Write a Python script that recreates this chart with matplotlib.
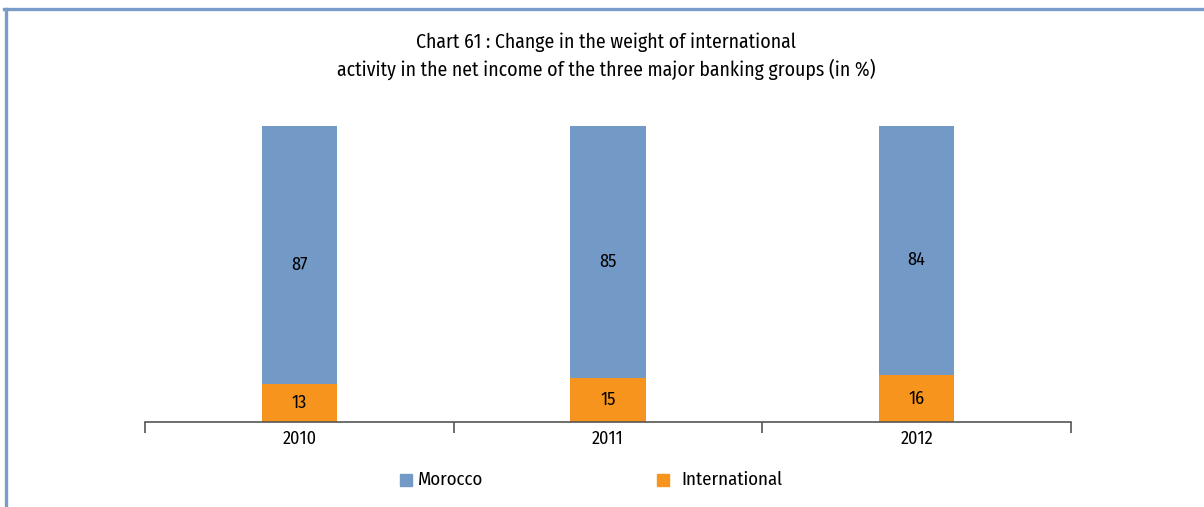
import matplotlib
matplotlib.use("Agg")
import matplotlib.pyplot as plt
from matplotlib.lines import Line2D
from matplotlib.patches import Rectangle

years = ["2010", "2011", "2012"]
morocco = [87, 85, 84]
international = [13, 15, 16]
series_names = ["Morocco", "International"]
title = ("Chart 61 : Change in the weight of international\n"
         "activity in the net income of the three major banking groups (in %)")

blue = "#7399c6"
orange = "#f7941d"
frame_color = "#7b9cc8"

plt.rcParams["font.family"] = ["Fira Sans Condensed", "DejaVu Sans"]

fig = plt.figure(figsize=(12.04, 5.07), dpi=100)
ax = fig.add_axes([145 / 1204, 85 / 507, 926 / 1204, 296 / 507])

x = list(range(len(years)))
width = 0.245
ax.bar(x, international, width, color=orange, label=series_names[1])
ax.bar(x, morocco, width, bottom=international, color=blue, label=series_names[0])

for xi, v in zip(x, international):
    ax.text(xi, v / 2, str(v), ha="center", va="center", fontsize=13, color="black")
for xi, v, base in zip(x, morocco, international):
    ax.annotate(str(v), (xi, base + v / 2), xytext=(0, -7), textcoords="offset points",
                ha="center", va="center", fontsize=13, color="black")

ax.set_xlim(-0.5, len(years) - 0.5)
ax.set_ylim(0, 100)
ax.set_yticks([])
for s in ["top", "right", "left"]:
    ax.spines[s].set_visible(False)
ax.spines["bottom"].set_color("#555555")
ax.spines["bottom"].set_linewidth(1.2)

ax.set_xticks(x)
ax.set_xticklabels(years, fontsize=13)
ax.tick_params(axis="x", which="major", length=0, pad=6)
ax.set_xticks([i - 0.5 for i in range(len(years) + 1)], minor=True)
ax.tick_params(axis="x", which="minor", length=8, width=1.2, color="#555555", direction="out")

fig.text(606 / 1204, 1 - 56 / 507, title, ha="center", va="center", fontsize=14.2,
         linespacing=1.35)


def legend_item(x0, gap, label, color):
    fig.patches.append(Rectangle((x0 / 1204, 1 - 486 / 507), 12 / 1204, 12 / 507,
                                 transform=fig.transFigure, color=color))
    fig.text((x0 + gap) / 1204, 1 - 480 / 507, label, ha="left", va="center", fontsize=13.5)


legend_item(400, 18, series_names[0], blue)
legend_item(657, 24, series_names[1], orange)

# frame on the top and left edges
fig.add_artist(Line2D([5.5 / 1204, 5.5 / 1204], [0, 1 - 8.5 / 507], transform=fig.transFigure,
                      color=frame_color, linewidth=2.4))
fig.add_artist(Line2D([4.3 / 1204, 1], [1 - 8.5 / 507, 1 - 8.5 / 507], transform=fig.transFigure,
                      color=frame_color, linewidth=2.4))

fig.savefig("out.png", dpi=100)
